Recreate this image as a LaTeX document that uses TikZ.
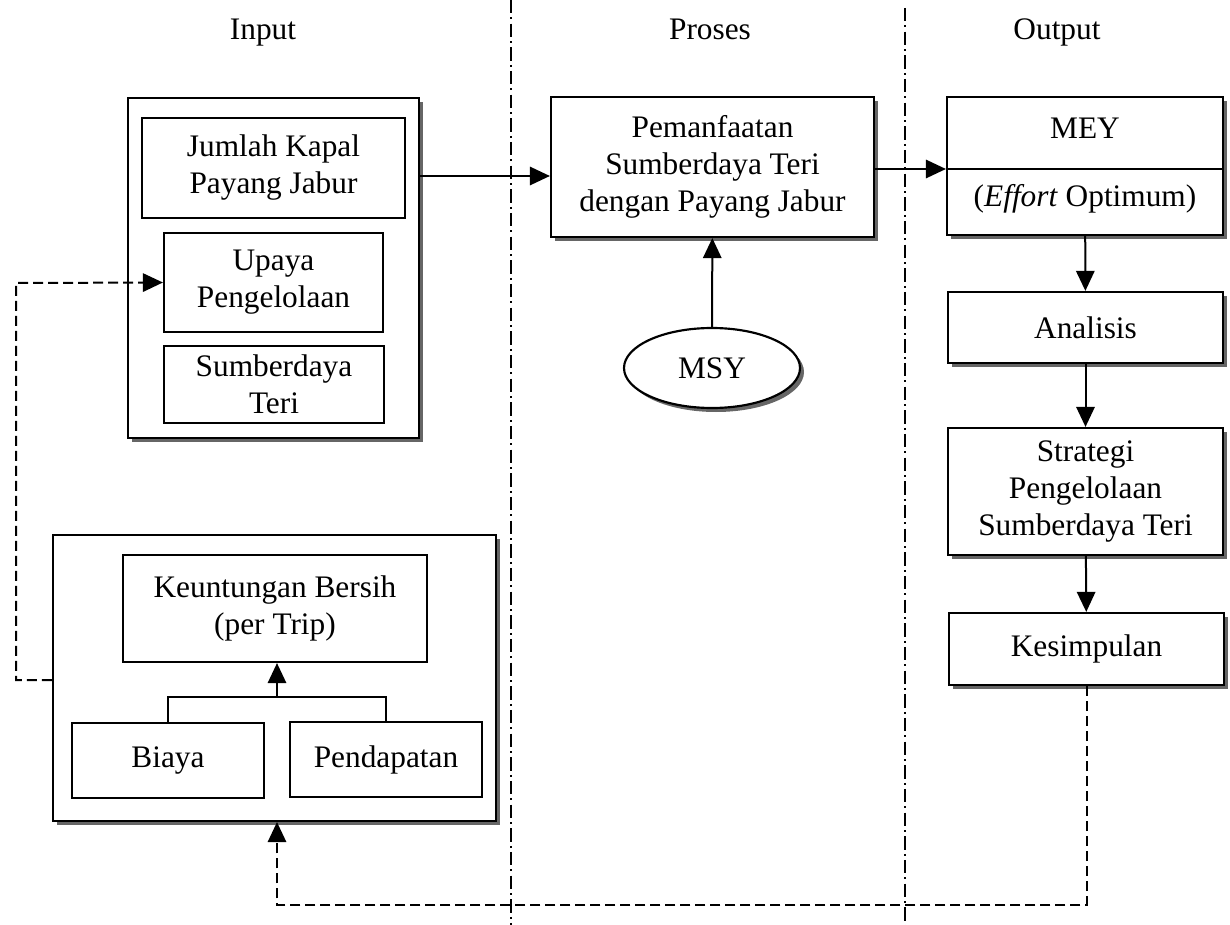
\documentclass[tikz,border=0pt]{standalone}
\usepackage{fontspec}
\setmainfont{Liberation Serif}
\usetikzlibrary{arrows.meta,shapes.geometric,shadows}

\tikzset{
    box/.style={draw, line width=1.3pt, fill=white, inner sep=0pt, align=center},
    shadebox/.style={box, drop shadow={shadow xshift=2.4pt, shadow yshift=-2.4pt, fill=black!60, opacity=1}},
    arr/.style={line width=1.2pt, -{Triangle[length=12pt,width=11pt]}},
    fb/.style={line width=1.1pt, dash pattern=on 6pt off 3pt},
    sep/.style={line width=0.9pt, dash pattern=on 8pt off 2.5pt on 1.2pt off 2.5pt},
    title/.style={anchor=base},
}

\begin{document}
\begin{tikzpicture}[x=0.6pt,y=-0.6pt,font=\fontsize{18.8}{22.2}\selectfont]
    \useasboundingbox (0,0) rectangle (1230,925);

    %Straight Lines: column separators
    \draw [sep] (511,0) -- (511,925);
    \draw [sep] (905,8) -- (905,925);

    % Text Node: column titles
    \node [title] (tinput) at (263,40) {Input};
    \node [title] (tproses) at (710,40) {Proses};
    \node [title] (toutput) at (1057,40) {Output};

    %Shape: Rectangle [input group]
    \node [shadebox, minimum width=174.6pt, minimum height=204pt] (inputbox) at (273.5,268) {};
    \node [box, minimum width=157.8pt, minimum height=60pt] (jumlah) at (273.5,168) {Jumlah Kapal\\Payang Jabur};
    \node [box, minimum width=131.4pt, minimum height=59.4pt] (upaya) at (273.5,282.5) {Upaya\\Pengelolaan};
    \node [box, minimum width=132pt, minimum height=46.2pt] (sumber) at (274,384.5) {Sumberdaya\\Teri};

    %Shape: Rectangle [profit group]
    \node [shadebox, minimum width=265.8pt, minimum height=171.6pt] (profitbox) at (274.5,678) {};
    \node [box, minimum width=182.4pt, minimum height=64.2pt] (untung) at (275,608.5) {Keuntungan Bersih\\(per Trip)};
    \node [box, minimum width=115.2pt, minimum height=45pt] (biaya) at (168,760.5) {Biaya};
    \node [box, minimum width=115.2pt, minimum height=45pt] (pendapatan) at (386,759.5) {Pendapatan};

    %Shape: Rectangle + Ellipse [proses]
    \node [shadebox, minimum width=193.8pt, minimum height=84pt] (manfaat) at (712.5,167) {Pemanfaatan\\Sumberdaya Teri\\dengan Payang Jabur};
    \node [shadebox, ellipse, minimum width=105.6pt, minimum height=48pt] (msy) at (712,368) {MSY};

    %Shape: Rectangle [output]
    \node [shadebox, minimum width=165.6pt, minimum height=82.8pt] (mey) at (1085,166) {};
    \node (meyhead) at (1085,128) {MEY};
    \node (meyfoot) at (1085,199) {(\textit{Effort} Optimum)};
    \node [shadebox, minimum width=165pt, minimum height=42.6pt] (analisis) at (1085.5,327.5) {Analisis};
    \node [shadebox, minimum width=165pt, minimum height=76.2pt] (strategi) at (1085.5,491.5) {Strategi\\Pengelolaan\\Sumberdaya Teri};
    \node [shadebox, minimum width=165pt, minimum height=43.2pt] (kesimpulan) at (1086.5,649) {Kesimpulan};
    \draw [line width=1.2pt] (mey.west |- 0,169) -- (mey.east |- 0,169);

    %Straight Lines
    \draw [arr] (inputbox.east |- 0,176) -- (manfaat.west |- 0,176);
    \draw [arr] (manfaat.east |- 0,169) -- (mey.west |- 0,169);
    \draw [arr] (msy) -- (manfaat);
    \draw [arr] (mey) -- (analisis);
    \draw [arr] (analisis) -- (strategi);
    \draw [arr] (strategi) -- (kesimpulan);

    \coordinate (join) at (277,697);
    \draw [line width=1.2pt] (biaya.north) |- (join) -| (pendapatan.north);
    \draw [arr] (join) -- (untung.south -| join);

    %Dashed Lines [feedback]
    \coordinate (fbleft) at (16,283);
    \coordinate (fbbot) at (277,905);
    \draw [fb,arr] (profitbox.west |- 0,680) -| (fbleft) -- (upaya.west);
    \draw [fb,arr] (kesimpulan.south) |- (fbbot) -- (profitbox.south -| fbbot);

\end{tikzpicture}
\end{document}
